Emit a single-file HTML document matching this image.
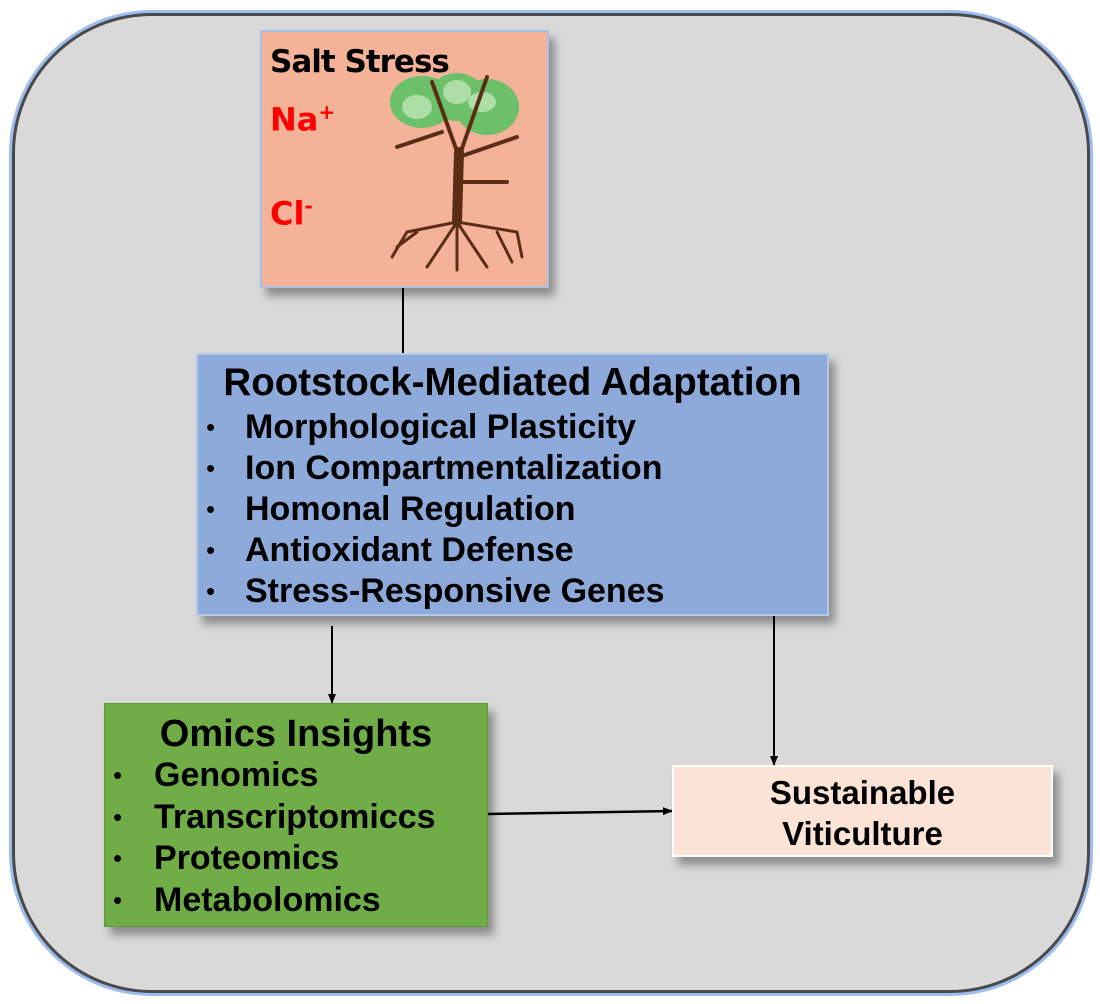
<!DOCTYPE html>
<html><head><meta charset="utf-8"><style>
body{margin:0;width:1100px;height:1004px;background:#fff;position:relative;overflow:hidden;font-family:"Liberation Sans",Arial,sans-serif;font-weight:bold}
.outer{position:absolute;left:12px;top:13px;width:1072px;height:974px;border:3px solid #4a4a4a;border-radius:140px;background:#d9d9d9;box-shadow:0 0 0 3px #9dbcf0}
.box{position:absolute;box-sizing:border-box;box-shadow:6px 8px 8px rgba(0,0,0,0.35)}
.ul{list-style:none;margin:0;padding:0}
.ul li{position:relative;white-space:nowrap}
.ul li:before{content:"•";position:absolute;font-weight:normal;font-size:26px}
</style></head><body>
<div class="outer"></div>
<svg width="1100" height="1004" style="position:absolute;left:0;top:0">
<defs><marker id="a" markerUnits="userSpaceOnUse" markerWidth="10" markerHeight="10" refX="9" refY="5" orient="auto"><path d="M0,1 L10,5 L0,9 z" fill="#000"/></marker></defs>
<line x1="403" y1="287" x2="403" y2="353" stroke="#000" stroke-width="2"/>
<line x1="332" y1="626" x2="332" y2="703" stroke="#000" stroke-width="2" marker-end="url(#a)"/>
<line x1="774" y1="616" x2="774" y2="765" stroke="#000" stroke-width="2" marker-end="url(#a)"/>
<line x1="488" y1="814" x2="672" y2="811" stroke="#000" stroke-width="2.5" marker-end="url(#a)"/>
</svg>
<div class="box" style="left:260px;top:30px;width:289px;height:258px;background:#f4b399;border:2px solid #a9c0e6">
<div style="position:absolute;left:8px;top:12px;font-size:31px;color:#000;font-family:'DejaVu Sans',sans-serif;letter-spacing:-1px">Salt Stress</div>
<div style="position:absolute;left:8px;top:68px;font-size:32px;color:#f00;font-family:'DejaVu Sans',sans-serif">Na<sup style="font-size:20px">+</sup></div>
<div style="position:absolute;left:8px;top:162px;font-size:32px;color:#f00;font-family:'DejaVu Sans',sans-serif">Cl<sup style="font-size:20px">-</sup></div>
<svg style="position:absolute;left:125px;top:40px" width="140" height="200" viewBox="0 0 140 200">
<g fill="#6cc06a"><ellipse cx="35" cy="30" rx="32" ry="26"/><ellipse cx="70" cy="25" rx="28" ry="24"/><ellipse cx="100" cy="35" rx="32" ry="28"/></g>
<g fill="#c8ecc0" opacity="0.7"><ellipse cx="30" cy="35" rx="15" ry="12"/><ellipse cx="70" cy="20" rx="14" ry="12"/><ellipse cx="95" cy="30" rx="14" ry="10"/></g>
<g stroke="#5a2d14" fill="none" stroke-linecap="round">
<path d="M70 150 L72 80" stroke-width="10"/>
<path d="M72 85 L45 10 M72 85 L100 5 M72 85 L130 65 M55 60 L10 75 M72 110 L120 110" stroke-width="4"/>
<path d="M70 150 L20 160 L5 185 M70 150 L40 195 M70 150 L70 198 M70 150 L100 195 M70 150 L130 160 L135 185 M30 160 L10 175 M110 160 L125 190" stroke-width="3"/>
</g></svg>
</div>
<div class="box" style="left:196px;top:353px;width:633px;height:263px;background:#8eaadb;border:2px solid #b4c8ec">
<div style="position:absolute;left:0;right:0;top:6px;text-align:center;font-size:38.5px;line-height:44px;white-space:nowrap">Rootstock-Mediated Adaptation</div>
<ul class="ul" style="position:absolute;left:0;top:52px;font-size:34px;line-height:41px">
<li style="padding-left:47px">Morphological Plasticity</li>
<li style="padding-left:47px">Ion Compartmentalization</li>
<li style="padding-left:47px">Homonal Regulation</li>
<li style="padding-left:47px">Antioxidant Defense</li>
<li style="padding-left:47px">Stress-Responsive Genes</li>
</ul>
<style>.box .ul li:before{left:8px}</style>
</div>
<div class="box" style="left:104px;top:703px;width:384px;height:224px;background:#70ad47;border:1px solid #5c9a38">
<div style="position:absolute;left:0;right:0;top:7px;text-align:center;font-size:38px;line-height:46px">Omics Insights</div>
<ul class="ul" style="position:absolute;left:0;top:51px;font-size:34px;line-height:41.5px">
<li style="padding-left:49px">Genomics</li>
<li style="padding-left:49px">Transcriptomiccs</li>
<li style="padding-left:49px">Proteomics</li>
<li style="padding-left:49px">Metabolomics</li>
</ul>
</div>
<div class="box" style="left:672px;top:765px;width:381px;height:92px;background:#fbe3d6;border:2px solid #fff;text-align:center;font-size:33px;line-height:41px;padding-top:5px">Sustainable<br>Viticulture</div>
</body></html>
